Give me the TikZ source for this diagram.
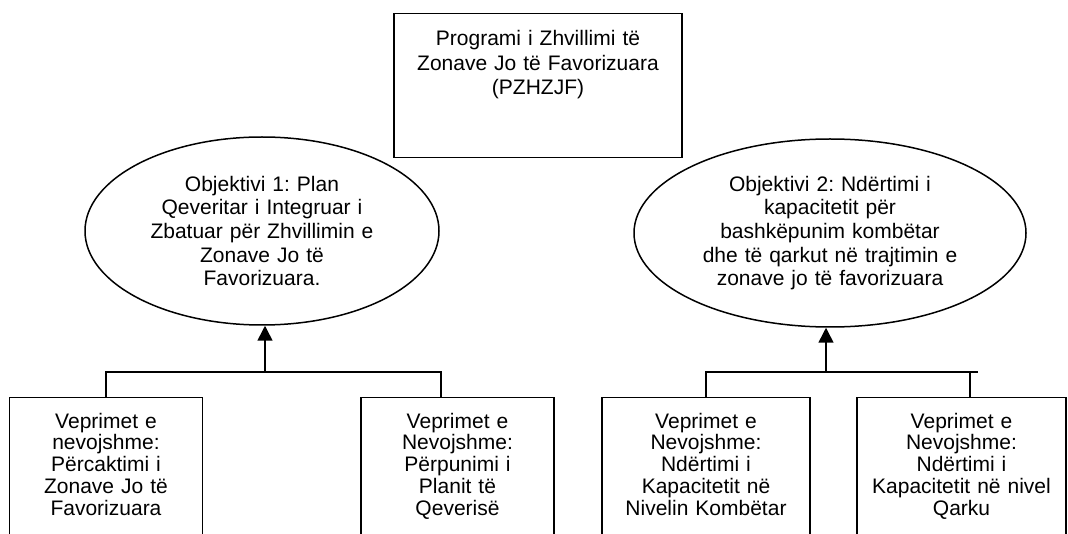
\documentclass[tikz,border=0pt]{standalone}
\usepackage{fontspec}
\setmainfont{Liberation Sans}
\usetikzlibrary{shapes.geometric,arrows.meta}
\frenchspacing

\begin{document}
\begin{tikzpicture}[x=1pt,y=-1pt,line width=1.5pt,
  box/.style={draw,rectangle,anchor=north,align=center,inner xsep=0pt,inner ysep=16pt,text height=15pt},
  act/.style={box,text depth=130pt,font=\fontsize{21}{21.7}\selectfont},
  oval/.style={draw,ellipse,align=center,inner sep=0pt,minimum height=188pt,font=\fontsize{21}{23.7}\selectfont},
  up/.style={-{Triangle[length=15pt,width=15pt]}}]
\clip (0,0) rectangle (1068,534); % page size
% programme at the top
\node[box,inner ysep=17pt,minimum width=288pt,text width=280pt,text depth=95pt,font=\fontsize{21}{24.5}\selectfont] (prog) at (538,13)
  {Programi i Zhvillimi të\\Zonave Jo të Favorizuara\\(PZHZJF)};
% the two objectives
\node[oval,minimum width=354pt,text width=230pt] (obj1) at (262,231)
  {Objektivi 1: Plan\\Qeveritar i Integruar i\\Zbatuar për Zhvillimin e\\Zonave Jo të\\Favorizuara.};
\node[oval,minimum width=392pt,text width=260pt] (obj2) at (830,233)
  {Objektivi 2: Ndërtimi i\\kapacitetit për\\bashkëpunim kombëtar\\dhe të qarkut në trajtimin e\\zonave jo të favorizuara};
% actions, cut by the page bottom
\node[act,minimum width=193pt,text width=185pt] (act1) at (106,396.5)
  {Veprimet e\\nevojshme:\\Përcaktimi i\\Zonave Jo të\\Favorizuara};
\node[act,minimum width=193pt,text width=185pt] (act2) at (457.5,396.5)
  {Veprimet e\\Nevojshme:\\Përpunimi i\\Planit të\\Qeverisë};
\node[act,minimum width=208pt,text width=200pt] (act3) at (706,396.5)
  {Veprimet e\\Nevojshme:\\Ndërtimi i\\Kapacitetit në\\Nivelin Kombëtar};
\node[act,minimum width=209pt,text width=200pt] (act4) at (961.5,396.5)
  {Veprimet e\\Nevojshme:\\Ndërtimi i\\Kapacitetit në nivel\\Qarku};
% left bus
\coordinate (j1) at (265,372);
\coordinate (d2) at (441,372);
\draw (act1.north) |- (d2) -- (d2 |- act2.north);
\draw[up] (j1) -- (j1 |- obj1.south);
% right bus
\coordinate (j2) at (826,372);
\coordinate (d4) at (970,372);
\coordinate (e2) at (978,372);
\draw (act3.north) |- (e2);
\draw (d4) -- (d4 |- act4.north);
\draw[up] (j2) -- (j2 |- obj2.south);
\end{tikzpicture}
\end{document}
